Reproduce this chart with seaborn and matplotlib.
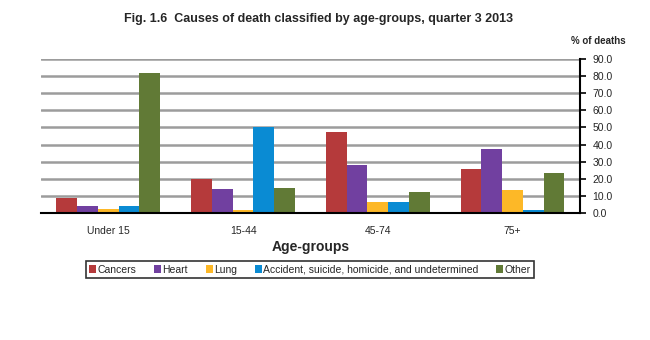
import matplotlib
matplotlib.use("Agg")
import matplotlib.pyplot as plt
import seaborn as sns
import pandas as pd
from matplotlib.ticker import FormatStrFormatter

groups = ["Under 15", "15-44", "45-74", "75+"]
causes = ["Cancers", "Heart", "Lung", "Accident, suicide, homicide, and undetermined", "Other"]
cancers = [8.5, 20.0, 47.5, 25.5]
heart = [4.0, 14.0, 28.0, 37.5]
lung = [2.5, 2.0, 6.5, 13.5]
accident = [4.0, 50.0, 6.5, 1.5]
other = [82.0, 14.5, 12.5, 23.5]
colors = ["#B53A3B", "#7140A0", "#FDB827", "#0A8BD3", "#617A36"]

rows = []
for c, vals in zip(causes, [cancers, heart, lung, accident, other]):
    for g, v in zip(groups, vals):
        rows.append({"Age-groups": g, "Cause": c, "Value": v})
df = pd.DataFrame(rows)

sns.set_theme(style="white")
plt.rcParams['font.family'] = ['Liberation Sans', 'DejaVu Sans']

fig = plt.figure(figsize=(6.5, 3.4), dpi=100)
ax = fig.add_axes([0.063, 0.3735, 0.829, 0.453])
sns.barplot(data=df, x="Age-groups", y="Value", hue="Cause", hue_order=causes,
            order=groups, palette=colors, width=0.77, saturation=1, ax=ax, legend=True,
            linewidth=0, gap=0)

ax.set_xlim(-0.5, 3.5)
ax.set_ylim(0, 90)
ax.set_yticks(range(0, 91, 10))
ax.yaxis.set_major_formatter(FormatStrFormatter('%.1f'))
ax.yaxis.tick_right()
ax.yaxis.set_label_position("right")
ax.tick_params(axis='y', which='both', right=True, length=4, width=1.2, color='black',
               labelsize=7.5, pad=5, direction='out')
ax.tick_params(axis='x', length=0, labelsize=7.5, pad=9)
ax.grid(axis='y', color='#9c9c9c', linewidth=1.8, zorder=0)
ax.set_axisbelow(True)
for s in ["top", "left"]:
    ax.spines[s].set_visible(False)
ax.spines["right"].set_color("black")
ax.spines["right"].set_linewidth(1.5)
ax.spines["bottom"].set_color("black")
ax.spines["bottom"].set_linewidth(1.5)
ax.set_ylabel("")
ax.set_xlabel("Age-groups", fontsize=10, fontweight='bold', labelpad=3)

fig.text(0.49, 0.945, "Fig. 1.6  Causes of death classified by age-groups, quarter 3 2013",
         ha='center', va='center', fontsize=9, fontweight='bold')
fig.text(0.921, 0.88, "% of deaths", ha='center', va='center', fontsize=7, fontweight='bold')

leg = ax.legend(loc='center', bbox_to_anchor=(0.499, -0.367), ncol=5, fontsize=7.5,
                frameon=True, fancybox=False, handlelength=0.7, handleheight=0.7,
                handletextpad=0.1, columnspacing=1.7, borderpad=0.3)
leg.get_frame().set_edgecolor('black')
leg.get_frame().set_linewidth(1.2)

fig.savefig("out.png", dpi=100)
